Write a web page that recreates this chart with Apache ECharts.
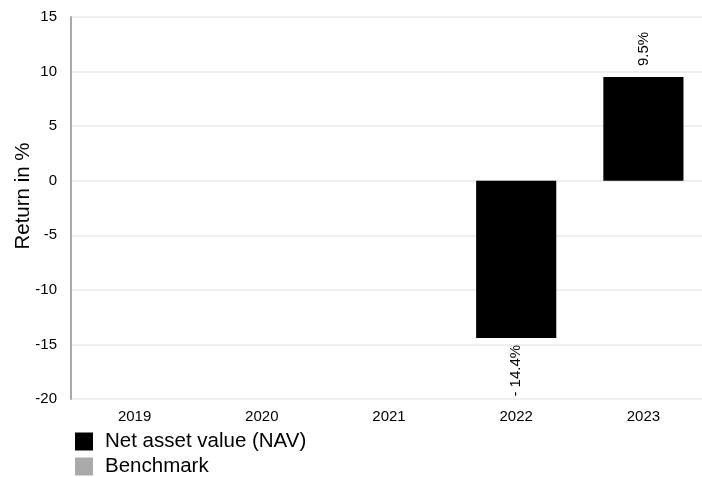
<!DOCTYPE html>
<html><head><meta charset="utf-8">
<script src="https://cdn.jsdelivr.net/npm/echarts@6/dist/echarts.min.js"></script>
<style>html,body{margin:0;padding:0;background:#fff}#c{width:702px;height:477px}</style>
</head><body><div id="c"></div>
<script>
const categories = ['2019', '2020', '2021', '2022', '2023'];
const navValues = [null, null, null, -14.4, 9.5];
const benchmarkValues = [null, null, null, null, null];
const yTicks = [-20, -15, -10, -5, 0, 5, 10, 15];

const fmt = v => (v < 0 ? '- ' + Math.abs(v).toFixed(1) : v.toFixed(1)) + '%';
const navData = navValues.map(v => v === null ? null : {
  value: v,
  label: { position: v < 0 ? 'bottom' : 'top', align: v < 0 ? 'right' : 'left', distance: v < 0 ? 7 : 11 }
});

const chart = echarts.init(document.getElementById('c'));
chart.setOption({
  animation: false,
  textStyle: { fontFamily: 'Liberation Sans, Arial, sans-serif' },
  grid: { left: 71, right: -5, top: 17, bottom: 78, outerBoundsMode: 'none', containLabel: false },
  legend: {
    orient: 'vertical', left: 75, top: 431, height: 80, itemGap: 4,
    itemWidth: 18, itemHeight: 18, icon: 'rect', padding: 0,
    textStyle: { fontSize: 20.5, color: '#000', padding: [0, 0, 0, 7],
      fontFamily: 'Liberation Sans, Arial, sans-serif' },
    data: ['Net asset value (NAV)', 'Benchmark']
  },
  xAxis: {
    type: 'category', data: categories,
    axisLine: { show: false }, axisTick: { show: false },
    axisLabel: { color: '#000', fontSize: 15, margin: 10 }
  },
  yAxis: {
    type: 'value', min: yTicks[0], max: yTicks[yTicks.length - 1], interval: 5,
    name: 'Return in %', nameLocation: 'middle', nameGap: 37, nameRotate: 90,
    nameMoveOverlap: false,
    nameTextStyle: { fontSize: 20.5, color: '#000', padding: [0, 0, 0, 24] },
    axisLine: { show: true, lineStyle: { color: '#aaa', width: 2 } },
    axisTick: { show: false },
    axisLabel: { color: '#000', fontSize: 15, margin: 14 },
    splitLine: { lineStyle: { color: '#eee', width: 2 } }
  },
  series: [
    {
      name: 'Net asset value (NAV)', type: 'bar', data: navData,
      barWidth: '63%', barGap: '-100%',
      itemStyle: { color: '#000' },
      label: { show: true, rotate: 90, verticalAlign: 'middle',
        color: '#000', fontSize: 15, formatter: p => fmt(p.value) }
    },
    {
      name: 'Benchmark', type: 'bar', data: benchmarkValues,
      barWidth: '63%', itemStyle: { color: '#aaa' }
    }
  ]
});
</script></body></html>
